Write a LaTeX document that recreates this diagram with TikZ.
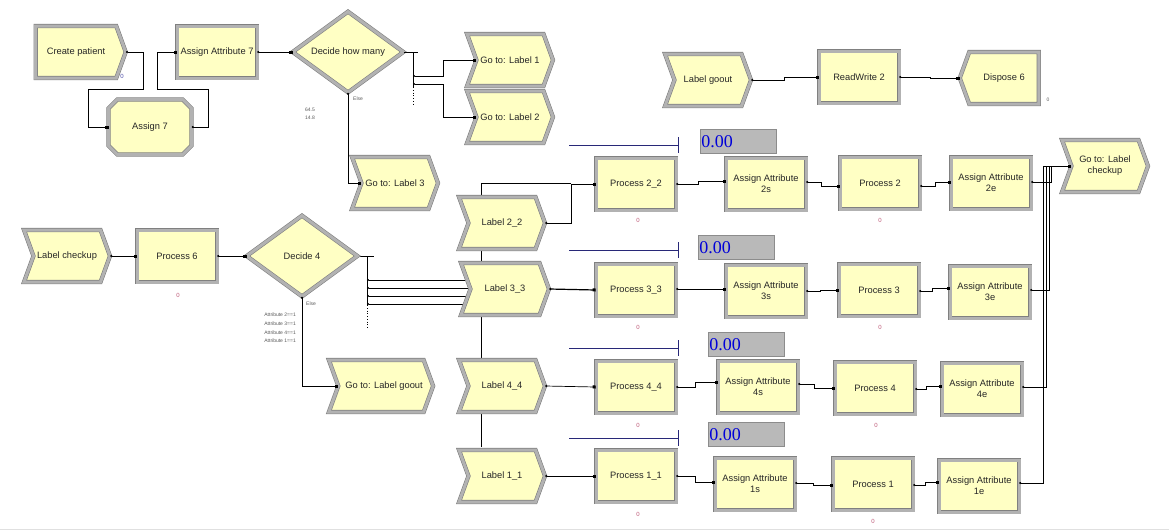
\documentclass[tikz,border=0pt]{standalone}
\usepackage{fontspec}
\setmainfont{Liberation Sans}
\newfontfamily\serf{Liberation Serif}
\usetikzlibrary{shapes.geometric,shapes.symbols,shapes.misc,arrows.meta,calc}
\definecolor{ylw}{RGB}{255,255,196}
\definecolor{bev}{RGB}{128,128,128}
\definecolor{bevin}{RGB}{178,178,178}
\definecolor{cnt}{RGB}{190,90,120}
\definecolor{navyl}{RGB}{40,40,120}
\definecolor{zgray}{RGB}{185,185,185}
\pgfdeclarelayer{bg}
\pgfsetlayers{bg,main}
\tikzset{
  blk/.style={fill=ylw, draw=bev, double=bevin, line width=0.6pt, double distance=3pt,
    inner sep=1pt, font=\fontsize{9.3}{11}\selectfont, text=black!85, align=center},
  proc/.style={blk, rectangle, minimum width=80pt, minimum height=52pt},
  chev/.style={blk, signal, signal to=east, signal from=west, signal pointer angle=140,
    minimum width=86pt, minimum height=52pt},
  crt/.style={blk, signal, signal to=east, signal pointer angle=140,
    minimum width=90pt, minimum height=52pt},
  dsp/.style={blk, signal, signal to=west, signal pointer angle=140,
    minimum width=79pt, minimum height=52pt},
  asg/.style={blk, chamfered rectangle, chamfered rectangle xsep=9pt,
    minimum width=83pt, minimum height=55pt},
  dec/.style={blk, diamond, aspect=1.4, inner sep=0pt, minimum width=111pt, minimum height=81pt},
  con/.style={line width=0.7pt, black, {Circle[length=2pt]}-{Square[length=3pt,width=3pt]}},
  ln/.style={line width=0.7pt, black},
  cnt0/.style={font=\fontsize{6}{6}\selectfont, text=cnt, inner sep=0pt},
  tiny/.style={font=\fontsize{5}{6}\selectfont, text=black!65, inner sep=0pt},
  res/.style={navyl, line width=0.8pt},
  zero/.style={fill=zgray, draw=black!45, line width=0.6pt, anchor=north west,
    text width=74pt, minimum height=24pt, inner sep=1pt, align=left,
    font=\serf\fontsize{18}{18}\selectfont, text=blue!85!black}
}
\begin{document}
\begin{tikzpicture}[x=1pt,y=-1pt]
\useasboundingbox (0,0) rectangle (1169,531);

% ---------- top part ----------
\node[crt]  (cp)  at (76,52)  {Create patient};
\node[asg]  (a7)  at (150,127) {Assign 7};
\node[proc] (aa7) at (217,52) {Assign Attribute 7};
\node[dec]  (dhm) at (348,52) {Decide how many};
\node[chev] (gl1) at (510,60) {Go to: Label 1};
\node[chev] (gl2) at (510,117) {Go to: Label 2};
\node[chev] (gl3) at (395,183) {Go to: Label 3};
\node[chev] (lgo) at (708,80) {Label goout};
\node[proc] (rw2) at (859,77) {ReadWrite 2};
\node[dsp]  (d6)  at (1004,78) {Dispose 6};

% ---------- middle / bottom ----------
\node[chev] (lcu) at (67,256) {Label checkup};
\node[proc] (p6)  at (177,256) {Process 6};
\node[dec]  (d4)  at (302,256) {Decide 4};
\node[chev, minimum width=93pt] (glg) at (381,386) {\hspace*{6pt}Go to: Label goout};
\node[chev] (l22) at (502,223) {Label 2\_2};
\node[chev, minimum width=88pt] (l33) at (505,289) {Label 3\_3};
\node[chev] (l44) at (502,386) {Label 4\_4};
\node[chev] (l11) at (502,476) {Label 1\_1};

\node[proc] (p22) at (636,184) {Process 2\_2};
\node[proc] (p33) at (636,290) {Process 3\_3};
\node[proc] (p44) at (636,387) {Process 4\_4};
\node[proc] (p11) at (636,476) {Process 1\_1};

\node[proc] (a2s) at (766,184) {Assign Attribute\\2s};
\node[proc] (a3s) at (766,291) {Assign Attribute\\3s};
\node[proc] (a4s) at (758,387) {Assign Attribute\\4s};
\node[proc] (a1s) at (755,484) {Assign Attribute\\1s};

\node[proc] (pr2) at (880,183) {Process 2};
\node[proc] (pr3) at (879,290) {Process 3};
\node[proc] (pr4) at (875,388) {Process 4};
\node[proc] (pr1) at (873,484) {Process 1};

\node[proc] (a2e) at (991,183) {Assign Attribute\\2e};
\node[proc] (a3e) at (990,292) {Assign Attribute\\3e};
\node[proc] (a4e) at (982,389) {Assign Attribute\\4e};
\node[proc] (a1e) at (979,486) {Assign Attribute\\1e};

\node[chev] (glc) at (1105,166) {Go to: Label\\checkup};

% ---------- background lines ----------
\begin{pgfonlayer}{bg}
  \coordinate (vtop) at (481,183);
  \draw[ln] (vtop) -- (481,447);
  \draw[ln] (vtop) -- (571,183);
  % Decide 4 fan-out into Label 3_3
  \draw[ln] (d4.east) -- ++(16,0);
  \draw[ln] (367,256) -- (367,306);
  \draw[ln, dotted] (367,308) -- (367,327);
  \foreach \yy in {280,288,296,304}{
    \coordinate (f\yy) at (367,\yy);
    \draw[line width=0.7pt, {Circle[length=2pt]}-] (f\yy) -- (f\yy -| l33.west);
  }
  % bottom window edge
  \draw[black!12, line width=1pt] (0,529) -- (1169,529);
\end{pgfonlayer}

% ---------- connectors: top ----------
\draw[con] (cp.east) -- ++(17,0) |- (88,89) |- (a7.west);
\draw[con] (a7.east) -- ++(17,0) |- (157,89) |- (aa7.west);
\draw[con] (aa7.east) -- (dhm.west);
\draw[ln] (dhm.east) -- ++(14,0);
\draw[ln] (413,52) -- (413,88);
\draw[ln, dotted] (413,90) -- (413,106);
\coordinate (o1) at (413,76);
\coordinate (o2) at (413,84);
\draw[con] (o1) -- (443,76) |- (gl1.west);
\draw[con] (o2) -- (443,84) |- (gl2.west);
\draw[con] (dhm.south) |- (gl3.west);
\draw[con] (lgo.east) -- ++(33,0) |- (rw2.west);
\draw[con] (rw2.east) -- ++(31,0) |- (d6.west);

% ---------- connectors: middle ----------
\draw[con] (lcu.east) -- (p6.west);
\draw[con] (p6.east) -- (d4.west);
\draw[con] (d4.south) |- (glg.west);
\draw[con] (l22.east) -- (571,223) |- (p22.west);
\draw[con, line width=1.2pt] (l33.east) -- (p33.west);
\draw[con] (l44.east) -- (p44.west);
\draw[con] (l11.east) -- (p11.west);

\draw[con] (p22.east) -- ++(22,0) |- ($(a2s.west)+(0,-3)$);
\draw[con] ($(a2s.east)+(0,-2)$) -- ++(15,0) |- ($(pr2.west)+(0,3)$);
\draw[con] ($(pr2.east)+(0,3)$) -- ++(15,0) |- ($(a2e.west)+(0,-1)$);

\draw[con] ($(p33.east)+(0,-1)$) -- ($(a3s.west)+(0,-2)$);
\draw[con] (a3s.east) -- ++(14,0) |- (pr3.west);
\draw[con] ($(pr3.east)+(0,1)$) -- ++(13,0) |- ($(a3e.west)+(0,-4)$);

\draw[con] (p44.east) -- ++(19,0) |- ($(a4s.west)+(0,-5)$);
\draw[con] ($(a4s.east)+(0,-3)$) -- ++(16,0) |- (pr4.west);
\draw[con] ($(pr4.east)+(0,1)$) -- ++(11,0) |- ($(a4e.west)+(0,-3)$);

\draw[con] (p11.east) -- ++(19,0) |- ($(a1s.west)+(0,-2)$);
\draw[con] ($(a1s.east)+(0,-1)$) -- ++(18,0) |- ($(pr1.west)+(0,1)$);
\draw[con] ($(pr1.east)+(0,1)$) -- ++(12,0) |- ($(a1e.west)+(0,-4)$);

\draw[con] ($(a2e.east)+(0,-1)$) -- (1051,182) |- (glc.west);
\draw[con] ($(a3e.east)+(0,-2)$) -- (1049,290) |- (glc.west);
\draw[con] ($(a4e.east)+(0,-2)$) -- (1046,387) |- (glc.west);
\draw[con] ($(a1e.east)+(0,-3)$) -- (1043,483) |- (glc.west);

% ---------- resource lines and 0.00 boxes ----------
\foreach \yy in {145,250,348,438}{
  \draw[res] (569,\yy) -- (678,\yy);
  \draw[res] (678,\yy-8) -- (678,\yy+8);
}
\node[zero] (z2) at (700,129) {0.00};
\node[zero] (z3) at (698,235) {0.00};
\node[zero] (z4) at (708,332) {0.00};
\node[zero] (z1) at (708,422) {0.00};

% ---------- small labels ----------
\node[cnt0, text=blue!50!black!70] (cpc) at (122,76) {0};
\node[tiny] (d6c) at (1048,100) {0};
\node[cnt0] (c6)  at (178,295) {0};
\node[cnt0] (c22) at (638,220) {0};
\node[cnt0] (c2)  at (880,220) {0};
\node[cnt0] (c33) at (638,327) {0};
\node[cnt0] (c3)  at (880,327) {0};
\node[cnt0] (c44) at (638,425) {0};
\node[cnt0] (c4)  at (876,425) {0};
\node[cnt0] (c11) at (638,514) {0};
\node[cnt0] (c1)  at (873,521) {0};

\node[tiny, anchor=west] (e1) at (353,99) {Else};
\node[tiny] (pc1) at (310,110) {64.5};
\node[tiny] (pc2) at (310,118) {14.8};
\node[tiny, anchor=west] (e2) at (306,304) {Else};
\node[tiny, anchor=east] (t1) at (296,315) {Attribute 2==1};
\node[tiny, anchor=east] (t2) at (296,324) {Attribute 3==1};
\node[tiny, anchor=east] (t3) at (296,333) {Attribute 4==1};
\node[tiny, anchor=east] (t4) at (296,341) {Attribute 1==1};
\end{tikzpicture}
\end{document}
